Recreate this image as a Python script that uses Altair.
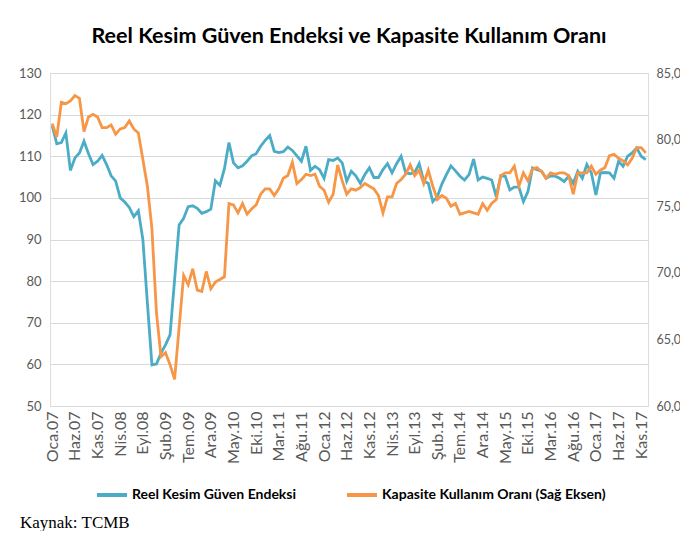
import altair as alt
import pandas as pd

months = ["Oca", "Şub", "Mar", "Nis", "May", "Haz", "Tem", "Ağu", "Eyl", "Eki", "Kas", "Ara"]
years = list(range(2007, 2018))

# Reel Kesim Güven Endeksi (left axis)
rkge = [
    117.3, 113.0, 113.3, 115.6, 106.6, 109.6, 110.8, 113.6, 110.6, 108.0, 108.8, 110.2,
    108.0, 105.3, 104.0, 100.0, 99.0, 97.7, 95.5, 96.9, 90.0, 74.7, 59.9, 60.1,
    62.7, 64.7, 67.1, 80.3, 93.5, 95.1, 97.9, 98.1, 97.5, 96.3, 96.7, 97.3,
    104.1, 103.0, 107.0, 113.3, 108.4, 107.2, 107.7, 108.8, 110.1, 110.6, 112.4, 113.8,
    115.0, 111.2, 110.9, 111.1, 112.2, 111.4, 110.1, 108.8, 112.4, 106.6, 107.6, 106.8,
    104.7, 109.2, 109.0, 109.6, 108.4, 104.0, 106.4, 105.3, 103.5, 105.6, 107.2, 104.9,
    104.9, 106.8, 108.2, 106.0, 108.2, 110.0, 106.0, 105.8, 106.1, 108.2, 104.0, 103.5,
    99.1, 100.3, 103.3, 105.6, 107.7, 106.5, 105.2, 104.3, 105.6, 109.3, 104.3, 105.0,
    104.7, 104.3, 100.3, 105.3, 105.2, 101.9, 102.6, 102.6, 99.1, 101.5, 107.2, 106.8,
    106.4, 104.7, 105.3, 105.2, 104.7, 103.9, 105.2, 103.5, 106.4, 104.7, 108.0, 106.0,
    100.7, 106.0, 106.1, 106.0, 104.7, 108.8, 107.6, 110.0, 110.8, 112.0, 110.0, 109.2,
]

# Kapasite Kullanım Oranı (right axis)
kko = [
    81.2, 80.2, 82.8, 82.7, 82.9, 83.3, 83.1, 80.6, 81.7, 81.9, 81.7, 80.9,
    80.9, 81.1, 80.4, 80.8, 80.9, 81.4, 80.8, 80.5, 78.5, 76.5, 73.3, 67.0,
    63.7, 64.0, 63.1, 62.0, 65.9, 69.8, 69.1, 70.3, 68.7, 68.6, 70.1, 68.8,
    69.3, 69.5, 69.7, 75.2, 75.1, 74.5, 75.2, 74.4, 74.8, 75.1, 75.9, 76.3,
    76.3, 75.8, 76.3, 77.1, 77.3, 78.3, 76.7, 77.0, 77.4, 77.3, 77.4, 76.5,
    76.2, 75.3, 75.9, 78.1, 76.9, 75.9, 76.3, 76.2, 76.4, 76.7, 76.5, 76.3,
    75.8, 74.5, 75.7, 75.7, 76.7, 77.0, 77.4, 78.1, 77.3, 77.7, 76.7, 77.7,
    76.5, 75.5, 75.8, 75.6, 75.0, 75.2, 74.4, 74.5, 74.6, 74.5, 74.4, 75.2,
    74.7, 75.2, 75.5, 77.3, 77.5, 77.5, 78.0, 76.5, 77.5, 76.9, 77.8, 77.9,
    77.6, 77.1, 77.5, 77.4, 77.5, 77.5, 77.3, 75.9, 77.5, 77.5, 77.5, 78.0,
    77.4, 77.7, 77.9, 78.8, 78.9, 78.6, 78.4, 78.1, 78.6, 79.4, 79.4, 79.0,
]

left_ticks = [50, 60, 70, 80, 90, 100, 110, 120, 130]
right_ticks = [60, 65, 70, 75, 80, 85]

s1 = "Reel Kesim Güven Endeksi"
s2 = "Kapasite Kullanım Oranı (Sağ Eksen)"
blue = "#4BACC6"
orange = "#F79646"

labels = [f"{m}.{str(y)[2:]}" for y in years for m in months]
shown = labels[::5]

df = pd.DataFrame({
    "label": labels * 2,
    "series": [s1] * len(labels) + [s2] * len(labels),
    "value": rkge + kko,
})

FONT = "Lato"

color = alt.Color(
    "series:N",
    scale=alt.Scale(domain=[s1, s2], range=[blue, orange]),
    legend=alt.Legend(
        title=None, orient="none", legendX=45, legendY=405, direction="horizontal",
        symbolType="stroke", symbolSize=900, symbolStrokeWidth=4, labelOffset=3,
        columnPadding=42, labelFont=FONT, labelFontSize=14, labelFontWeight="bold",
        labelColor="#000000", labelLimit=400,
    ),
)

x = alt.X(
    "label:O", sort=None, title=None,
    scale=alt.Scale(paddingOuter=0.5),
    axis=alt.Axis(values=shown, labelAngle=-90, labelFont=FONT, labelFontSize=16,
                  labelColor="#595959", ticks=False, domain=False, labelPadding=5, grid=False),
)

base = alt.Chart(df)

left = base.transform_filter(alt.datum.series == s1).mark_line(strokeWidth=2.8).encode(
    x=x,
    y=alt.Y("value:Q", title=None, scale=alt.Scale(domain=[50, 130], nice=False, zero=False),
            axis=alt.Axis(values=left_ticks, orient="left", labelFont=FONT, labelFontSize=13,
                          labelColor="#595959", ticks=False, domain=False, labelPadding=9,
                          grid=True, gridColor="#D9D9D9", gridWidth=1)),
    color=color,
)

right = base.transform_filter(alt.datum.series == s2).mark_line(strokeWidth=2.8).encode(
    x=x,
    y=alt.Y("value:Q", title=None, scale=alt.Scale(domain=[60, 85], nice=False, zero=False),
            axis=alt.Axis(values=right_ticks, orient="right", labelFont=FONT, labelFontSize=12.5,
                          labelColor="#595959", ticks=False, domain=False, labelPadding=8,
                          grid=False,
                          labelExpr="replace(format(datum.value, '.1f'), '.', ',')")),
    color=color,
)

src = alt.Chart(pd.DataFrame({"t": ["Kaynak: TCMB"]})).mark_text(
    font="Liberation Serif", fontSize=17, align="left", baseline="middle", color="#000000"
).encode(text="t:N", x=alt.value(-30), y=alt.value(450))

chart = alt.layer(left, right, src).resolve_scale(y="independent").properties(
    width=598, height=333,
    title=alt.TitleParams(
        "Reel Kesim Güven Endeksi ve Kapasite Kullanım Oranı",
        font=FONT, fontSize=21.5, fontWeight="bold", color="#000000",
        anchor="middle", offset=20,
    ),
    autosize=alt.AutoSizeParams(type="none"),
    padding={"left": 42, "top": 65, "right": 32, "bottom": 125},
).configure_view(stroke=None).configure(background="white")

chart.save("out.html", embed_options={"renderer": "svg", "actions": False})
